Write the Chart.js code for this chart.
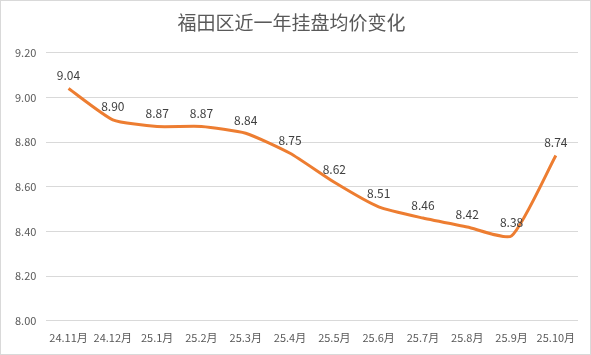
<!DOCTYPE html>
<html><head><meta charset="utf-8">
<script src="https://cdn.jsdelivr.net/npm/chart.js@4/dist/chart.umd.min.js"></script>
<style>
html,body{margin:0;padding:0;background:#fff;}
#wrap{position:absolute;left:0;top:0;width:589px;height:353px;border:1px solid #d9d9d9;}
</style></head>
<body><div id="wrap"><canvas id="c" width="589" height="353"></canvas></div>
<script>
const categories = ["24.11月","24.12月","25.1月","25.2月","25.3月","25.4月","25.5月","25.6月","25.7月","25.8月","25.9月","25.10月"];
const prices = [9.04, 8.90, 8.87, 8.87, 8.84, 8.75, 8.62, 8.51, 8.46, 8.42, 8.38, 8.74];
const titleText = "福田区近一年挂盘均价变化";
const FONT = "'Microsoft YaHei','Noto Sans CJK SC','DejaVu Sans',sans-serif";

const labelPlugin = {
  id: 'labels',
  afterDatasetsDraw(chart) {
    const ctx = chart.ctx;
    const meta = chart.getDatasetMeta(0);
    ctx.save();
    ctx.font = "12px " + FONT;
    ctx.fillStyle = "#404040";
    ctx.textAlign = "center";
    ctx.textBaseline = "bottom";
    meta.data.forEach((p, i) => {
      ctx.fillText(prices[i].toFixed(2), p.x, p.y - 7);
    });
    ctx.restore();
  }
};

new Chart(document.getElementById('c'), {
  type: 'line',
  data: {
    labels: categories,
    datasets: [{
      data: prices,
      borderColor: '#ED7D31',
      borderWidth: 3,
      pointRadius: 0,
      tension: 0.18,
      fill: false
    }]
  },
  options: {
    responsive: false,
    animation: false,
    layout: { padding: { left: 4, right: 12, top: 0, bottom: 8 } },
    plugins: {
      legend: { display: false },
      tooltip: { enabled: false },
      title: {
        display: true,
        text: titleText,
        color: '#595959',
        font: { family: FONT, size: 19, weight: 'normal' },
        padding: { top: 10, bottom: 19 }
      }
    },
    scales: {
      x: {
        offset: true,
        grid: { display: false },
        border: { display: false },
        ticks: { color: '#595959', font: { family: FONT, size: 11 }, maxRotation: 0, autoSkip: false, padding: 2 }
      },
      y: {
        min: 8.0, max: 9.2,
        ticks: { stepSize: 0.2, color: '#595959', font: { family: FONT, size: 11 }, padding: 10,
          callback: v => Number(v).toFixed(2) },
        grid: { color: '#d9d9d9', drawTicks: false },
        border: { display: false }
      }
    }
  },
  plugins: [labelPlugin]
});
</script>
</body></html>
